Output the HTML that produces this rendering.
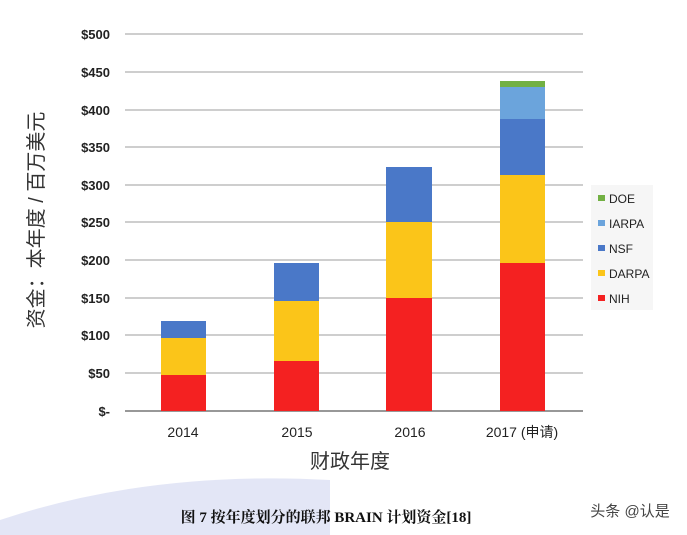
<!DOCTYPE html>
<html><head><meta charset="utf-8"><style>
body{margin:0;background:#fff;}
svg{display:block;font-family:"Liberation Sans","Noto Sans CJK SC",sans-serif;}
</style></head><body>
<svg width="687" height="535" viewBox="0 0 687 535">
<rect width="687" height="535" fill="#fff"/>
<path d="M0 520 Q150 470 330 480 L330 535 L0 535Z" fill="#e3e6f6"/>
<g stroke="#b0b0b0" stroke-width="1.2">
<line x1="125" x2="583" y1="34" y2="34"/><line x1="125" x2="583" y1="72" y2="72"/>
<line x1="125" x2="583" y1="110" y2="110"/><line x1="125" x2="583" y1="147" y2="147"/>
<line x1="125" x2="583" y1="185" y2="185"/><line x1="125" x2="583" y1="222" y2="222"/>
<line x1="125" x2="583" y1="260" y2="260"/><line x1="125" x2="583" y1="298" y2="298"/>
<line x1="125" x2="583" y1="335" y2="335"/><line x1="125" x2="583" y1="373" y2="373"/>
</g>
<line x1="125" x2="583" y1="411" y2="411" stroke="#777" stroke-width="1.5"/>
<g font-size="13" fill="#222" text-anchor="end" font-weight="bold">
<text x="110" y="39">$500</text><text x="110" y="77">$450</text><text x="110" y="115">$400</text>
<text x="110" y="152">$350</text><text x="110" y="190">$300</text><text x="110" y="227">$250</text>
<text x="110" y="265">$200</text><text x="110" y="303">$150</text><text x="110" y="340">$100</text>
<text x="110" y="378">$50</text><text x="110" y="416">$-</text>
</g>
<rect x="161" y="375" width="45" height="36" fill="#f42121"/>
<rect x="161" y="338" width="45" height="37" fill="#fbc519"/>
<rect x="161" y="321" width="45" height="17" fill="#4a78c8"/>
<rect x="274" y="361" width="45" height="50" fill="#f42121"/>
<rect x="274" y="301" width="45" height="60" fill="#fbc519"/>
<rect x="274" y="263" width="45" height="38" fill="#4a78c8"/>
<rect x="386" y="298" width="46" height="113" fill="#f42121"/>
<rect x="386" y="222" width="46" height="76" fill="#fbc519"/>
<rect x="386" y="167" width="46" height="55" fill="#4a78c8"/>
<rect x="500" y="263" width="45" height="148" fill="#f42121"/>
<rect x="500" y="175" width="45" height="88" fill="#fbc519"/>
<rect x="500" y="119" width="45" height="56" fill="#4a78c8"/>
<rect x="500" y="87" width="45" height="32" fill="#6ba4dc"/>
<rect x="500" y="81" width="45" height="6" fill="#72b043"/>
<rect x="591" y="185" width="62" height="125" fill="#f6f6f6"/>
<g font-size="12" fill="#222">
<rect x="598" y="195" width="7" height="6" fill="#72b043"/><text x="609" y="203">DOE</text>
<rect x="598" y="220" width="7" height="6" fill="#6ba4dc"/><text x="609" y="228">IARPA</text>
<rect x="598" y="245" width="7" height="6" fill="#4a78c8"/><text x="609" y="253">NSF</text>
<rect x="598" y="270" width="7" height="6" fill="#fbc519"/><text x="609" y="278">DARPA</text>
<rect x="598" y="295" width="7" height="6" fill="#f42121"/><text x="609" y="303">NIH</text>
</g>
<g font-size="14" fill="#222" text-anchor="middle">
<text x="183" y="437">2014</text><text x="297" y="437">2015</text><text x="410" y="437">2016</text>
<text x="522" y="437">2017 (申请)</text>
</g>
<text x="350" y="468" font-size="20" text-anchor="middle" fill="#333">财政年度</text>
<text transform="translate(43 220) rotate(-90)" font-size="20" text-anchor="middle" fill="#333">资金：本年度 / 百万美元</text>
<text x="326" y="522" font-size="15" text-anchor="middle" fill="#111" font-weight="bold" font-family="'Liberation Serif','Noto Serif CJK SC',serif">图 7  按年度划分的联邦 BRAIN 计划资金[18]</text>
<text x="630" y="516" font-size="15" text-anchor="middle" fill="#444">头条 @认是</text>
</svg>
</body></html>
